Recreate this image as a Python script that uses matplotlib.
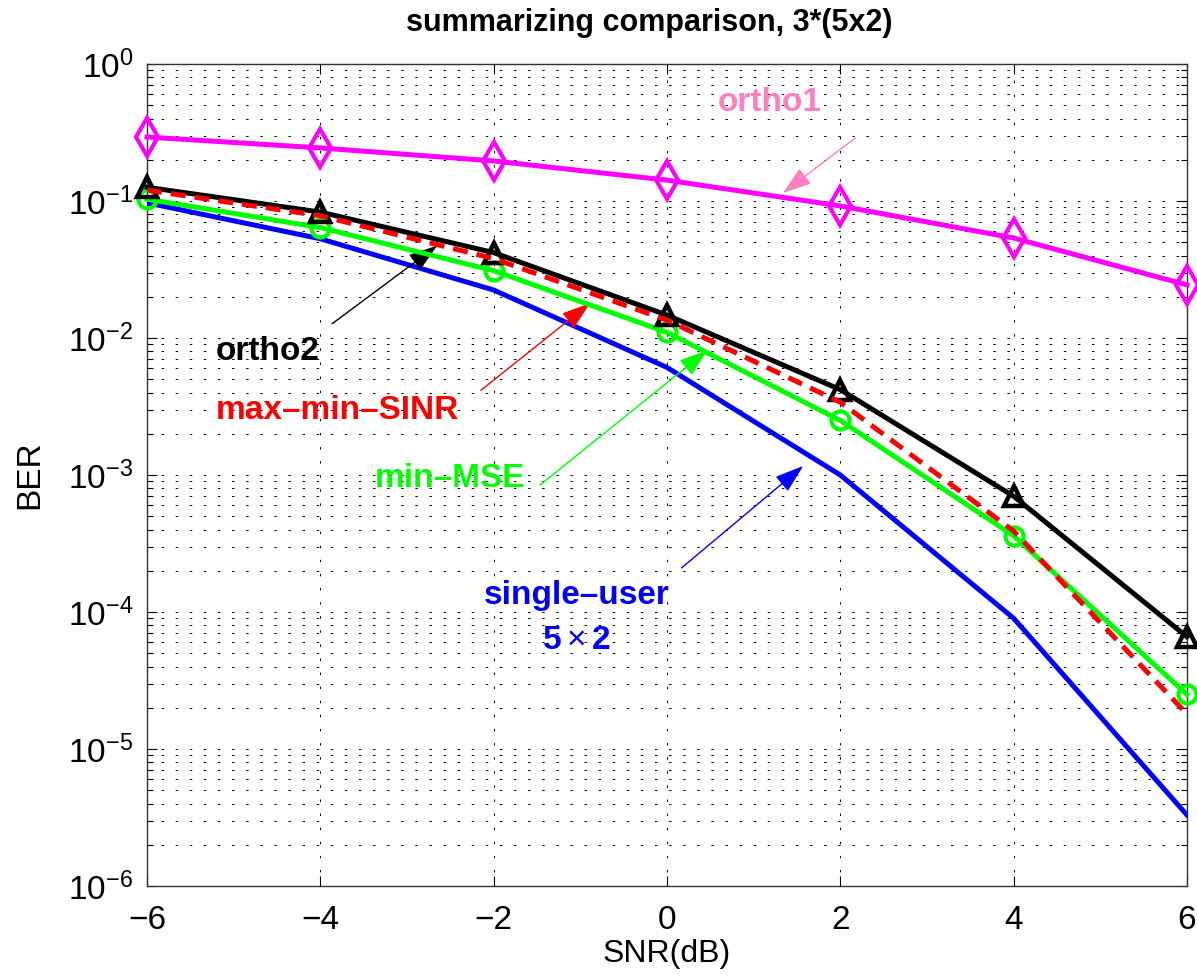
import matplotlib
matplotlib.use("Agg")
import matplotlib.pyplot as plt
from matplotlib.ticker import FixedLocator, NullFormatter, LogFormatterSciNotation

plt.rcParams['font.family'] = ['Liberation Sans', 'DejaVu Sans']
plt.rcParams['mathtext.fontset'] = 'custom'
plt.rcParams['mathtext.rm'] = 'Liberation Sans'
plt.rcParams['mathtext.it'] = 'Liberation Sans:italic'
plt.rcParams['mathtext.bf'] = 'Liberation Sans:bold'

# SNR grid (dB) and BER curves
snr_db = [-6, -4, -2, 0, 2, 4, 6]
ber_single_user = [0.097, 0.053, 0.0224, 0.0061, 1.0e-3, 9.0e-5, 3.3e-6]
ber_ortho1 = [0.293, 0.244, 0.196, 0.142, 0.092, 0.0537, 0.0244]
ber_ortho2 = [0.126, 0.083, 0.042, 0.0147, 0.0042, 7.0e-4, 6.6e-5]
ber_max_min_sinr = [0.120, 0.078, 0.038, 0.0135, 0.0034, 3.9e-4, 1.8e-5]
ber_min_mse = [0.103, 0.064, 0.031, 0.011, 0.0025, 3.6e-4, 2.5e-5]

x_ticks = [-6, -4, -2, 0, 2, 4, 6]
y_ticks = [1e-6, 1e-5, 1e-4, 1e-3, 1e-2, 1e-1, 1e0]
title_text = "summarizing comparison, 3*(5x2)"
x_label = "SNR(dB)"
y_label = "BER"

fig = plt.figure(figsize=(11.97, 9.80), dpi=100)
ax = fig.add_axes([0.1228, 0.0959, 0.8688, 0.8388])

lw = 3.6
ax.plot(snr_db, ber_single_user, color='#0000ff', lw=lw, zorder=3)
ax.plot(snr_db, ber_ortho1, color='#ff00ff', lw=lw, marker='d', ms=19,
        mfc='none', mew=3, zorder=3, clip_on=False)
ax.plot(snr_db, ber_min_mse, color='#00ff00', lw=lw, marker='o', ms=13,
        mfc='none', mew=3, zorder=4, clip_on=False)
ax.plot(snr_db, ber_ortho2, color='black', lw=lw, marker='^', ms=15,
        mfc='none', mew=3.2, zorder=5, clip_on=False)
ax.plot(snr_db, ber_max_min_sinr, color='#ff0000', lw=lw, ls=(0, (3, 1.8)),
        zorder=6)

ax.set_yscale('log')
ax.set_xlim(-6, 6)
ax.set_ylim(y_ticks[0], y_ticks[-1])
ax.set_xticks(x_ticks)
ax.set_xticklabels([str(v).replace('-', '\u2212') for v in x_ticks])
ax.yaxis.set_major_locator(FixedLocator(y_ticks))
ax.yaxis.set_major_formatter(LogFormatterSciNotation())
minor = [m * t for t in y_ticks[:-1] for m in range(2, 10)]
ax.yaxis.set_minor_locator(FixedLocator(minor))
ax.yaxis.set_minor_formatter(NullFormatter())

grid_style = dict(color='black', lw=0.7, ls=(0, (2.5, 12)))
ax.grid(True, which='major', axis='both', **grid_style)
ax.grid(True, which='minor', axis='y', **grid_style)
ax.set_axisbelow(True)

ax.tick_params(which='both', direction='in', top=True, right=True,
               labelsize=24, width=0.8, color='black')
ax.tick_params(which='major', length=7)
ax.tick_params(which='minor', length=4)
ax.tick_params(axis='x', pad=14)
ax.tick_params(axis='y', pad=10)
for s in ax.spines.values():
    s.set_linewidth(1.0)
    s.set_color('#333333')

ax.set_xlabel(x_label, fontsize=23, labelpad=2)
ax.set_ylabel(y_label, fontsize=24, labelpad=16)
ax.set_title(title_text, fontsize=22, fontweight='bold', x=0.483, pad=24)

def note(text, xy_text, tail, tip, color, ha='left', size=24):
    ax.text(*xy_text, text, transform=ax.transAxes, color=color, fontsize=size,
            fontweight='bold', ha=ha, va='center')
    ax.annotate('', xy=tip, xytext=tail, xycoords='axes fraction',
                textcoords='axes fraction',
                arrowprops=dict(arrowstyle='-|>,head_length=0.9,head_width=0.3',
                                color=color, lw=1.0, shrinkA=0, shrinkB=0,
                                mutation_scale=20))

note('ortho1', (0.599, 0.953), (0.681, 0.910), (0.6115, 0.843), '#ff80c0', ha='center')
note('ortho2', (0.066, 0.650), (0.178, 0.684), (0.279, 0.779), 'black')
note('max\u2013min\u2013SINR', (0.066, 0.579), (0.321, 0.603), (0.426, 0.709), '#ff0000')
note('min\u2013MSE', (0.219, 0.496), (0.378, 0.488), (0.539, 0.652), '#00ff00')
note('single\u2013user', (0.413, 0.353), (0.514, 0.387), (0.631, 0.511), '#0000ff', ha='center')
ax.text(0.413, 0.299, r'$\mathbf{5}\times\mathbf{2}$', transform=ax.transAxes,
        color='#0000ff', fontsize=24, ha='center', va='center')

fig.savefig('out.png', dpi=100, facecolor='white')
